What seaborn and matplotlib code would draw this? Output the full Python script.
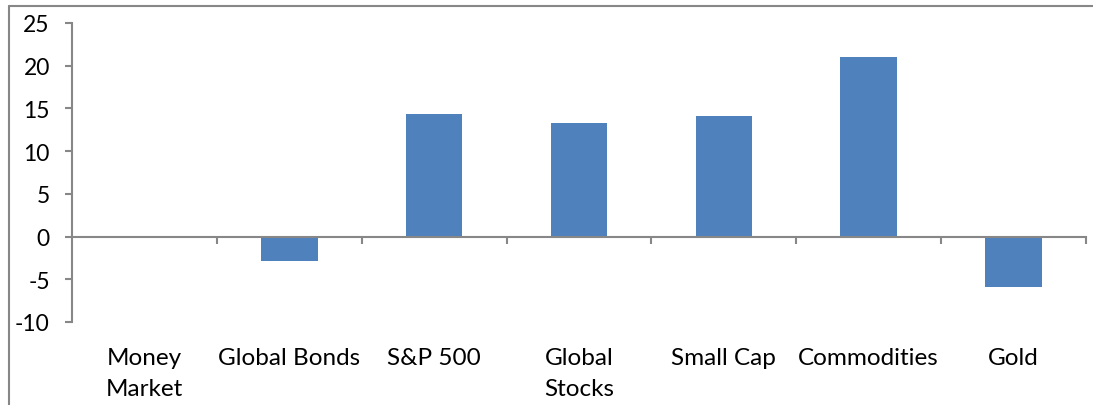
import matplotlib
matplotlib.use("Agg")
import matplotlib.pyplot as plt
import seaborn as sns
from matplotlib.lines import Line2D

categories = ["Money\nMarket", "Global Bonds", "S&P 500", "Global\nStocks", "Small Cap", "Commodities", "Gold"]
values = [0.0, -2.9, 14.4, 13.3, 14.1, 21.0, -5.9]
yticks = [-10, -5, 0, 5, 10, 15, 20, 25]

sns.set_style("white")
plt.rcParams['font.family'] = ['Lato', 'DejaVu Sans']

W, H = 1093, 406
fig = plt.figure(figsize=(W / 100, H / 100), dpi=100)
ax = fig.add_axes([72 / W, 1 - 323 / H, (1086 - 72) / W, (323 - 24) / H])

bar_color = "#4F81BD"
gray = "#878787"

sns.barplot(x=list(range(len(categories))), y=values, color=bar_color, saturation=1,
            width=0.39, ax=ax, linewidth=0, order=list(range(len(categories))))

ax.set_xlim(-0.5, len(categories) - 0.5)
ax.set_ylim(-10, 25)
ax.set_yticks(yticks)
ax.set_yticklabels([str(v) for v in yticks], fontsize=16.5, color="black")

for s in ["top", "right"]:
    ax.spines[s].set_visible(False)
ax.spines["left"].set_color(gray)
ax.spines["left"].set_linewidth(1.5)
ax.spines["bottom"].set_position(("data", 0))
ax.spines["bottom"].set_color(gray)
ax.spines["bottom"].set_linewidth(1.5)

ax.tick_params(axis="y", direction="out", length=5, width=1.5, color=gray, pad=11, left=True)
ax.set_xticks([i + 0.5 for i in range(len(categories))])
ax.set_xticklabels([])
ax.tick_params(axis="x", direction="out", length=5, width=1.5, color=gray, bottom=True)
ax.set_xlabel("")
ax.set_ylabel("")

trans = ax.get_xaxis_transform()
for i, lab in enumerate(categories):
    ax.text(i, -0.083, lab, transform=trans, ha="center", va="top", fontsize=17.5,
            color="black", linespacing=1.6)

# chart frame (left and top edges)
fig.add_artist(Line2D([9 / W, 9 / W], [0, 1 - 7 / H], transform=fig.transFigure, color=gray, lw=1.5))
fig.add_artist(Line2D([9 / W, 1], [1 - 7 / H, 1 - 7 / H], transform=fig.transFigure, color=gray, lw=1.5))

fig.savefig("out.png", dpi=100)
